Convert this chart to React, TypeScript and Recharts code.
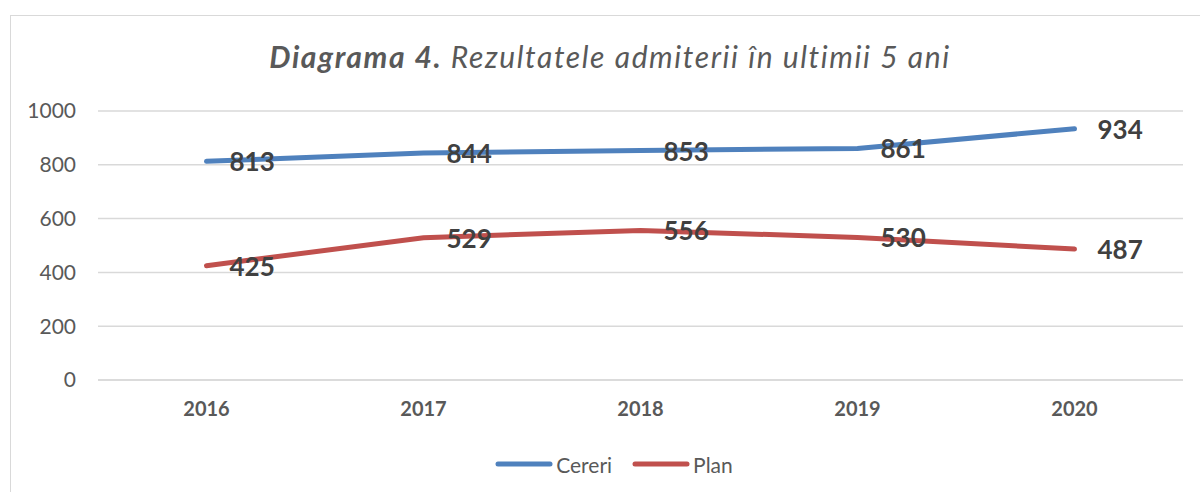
import { CartesianGrid, LabelList, Legend, Line, LineChart, XAxis, YAxis } from "recharts";

const years = ["2016", "2017", "2018", "2019", "2020"];
const cereri = [813, 844, 853, 861, 934];
const plan = [425, 529, 556, 530, 487];
const yTicks = [0, 200, 400, 600, 800, 1000];

const series = [
  { key: "Cereri", color: "#4f81bd" },
  { key: "Plan", color: "#c0504d" },
];

const data = years.map((year, i) => ({ year, Cereri: cereri[i], Plan: plan[i] }));

const FONT = "Lato, 'Open Sans', sans-serif";

function ValueLabel(props: any) {
  const { x, y, value } = props;
  return (
    <text
      x={x + 23}
      y={y}
      dominantBaseline="central"
      textAnchor="start"
      fontFamily={FONT}
      fontWeight="bold"
      fontSize={26}
      fill="#404040"
    >
      {value}
    </text>
  );
}

function LegendBox() {
  return (
    <div
      style={{
        display: "flex",
        justifyContent: "center",
        alignItems: "center",
        height: 28,
        paddingLeft: 45,
        fontFamily: FONT,
      }}
    >
      {series.map((s, i) => (
        <div key={s.key} style={{ display: "flex", alignItems: "center", marginLeft: i > 0 ? 20 : 0 }}>
          <svg width={58} height={10}>
            <line x1={3} y1={5} x2={55} y2={5} stroke={s.color} strokeWidth={5} strokeLinecap="round" />
          </svg>
          <span style={{ fontSize: 21, color: "#595959", marginLeft: 3 }}>{s.key}</span>
        </div>
      ))}
    </div>
  );
}

export default function App() {
  return (
    <div style={{ position: "absolute", left: 0, top: 0, width: 1200, height: 492, overflow: "hidden", background: "#fff" }}>
      <div
        style={{
          position: "absolute",
          left: 10,
          top: 15,
          width: 1220,
          height: 520,
          border: "1.5px solid #d9d9d9",
        }}
      />
      <LineChart
        width={1200}
        height={492}
        data={data}
        margin={{ top: 111, right: 17, bottom: 14, left: 0 }}
        style={{ position: "absolute", left: 0, top: 0 }}
      >
        <text
          x={610}
          y={68}
          textAnchor="middle"
          fontFamily={FONT}
          fontStyle="italic"
          fontSize={30}
          letterSpacing={1.6}
          fill="#595959"
        >
          <tspan fontWeight="bold">Diagrama 4.</tspan>
          <tspan> Rezultatele admiterii în ultimii 5 ani</tspan>
        </text>
        <CartesianGrid vertical={false} stroke="#d9d9d9" strokeWidth={1.5} />
        <XAxis
          dataKey="year"
          height={70}
          padding={{ left: 108.5, right: 108.5 }}
          axisLine={{ stroke: "#d9d9d9", strokeWidth: 1.5 }}
          tickLine={false}
          tickSize={0}
          tickMargin={22}
          tick={{ fontFamily: FONT, fontWeight: "bold", fontSize: 20, fill: "#595959" }}
        />
        <YAxis
          width={98}
          domain={[0, 1000]}
          ticks={yTicks}
          axisLine={false}
          tickLine={false}
          tickSize={0}
          tickMargin={22}
          tick={{ fontFamily: FONT, fontSize: 21, fill: "#595959" }}
        />
        <Legend verticalAlign="bottom" content={<LegendBox />} wrapperStyle={{ height: 28 }} />
        {series.map((s) => (
          <Line
            key={s.key}
            type="linear"
            dataKey={s.key}
            stroke={s.color}
            strokeWidth={5}
            strokeLinecap="round"
            dot={false}
            activeDot={false}
            isAnimationActive={false}
          >
            <LabelList dataKey={s.key} content={<ValueLabel />} />
          </Line>
        ))}
      </LineChart>
    </div>
  );
}
